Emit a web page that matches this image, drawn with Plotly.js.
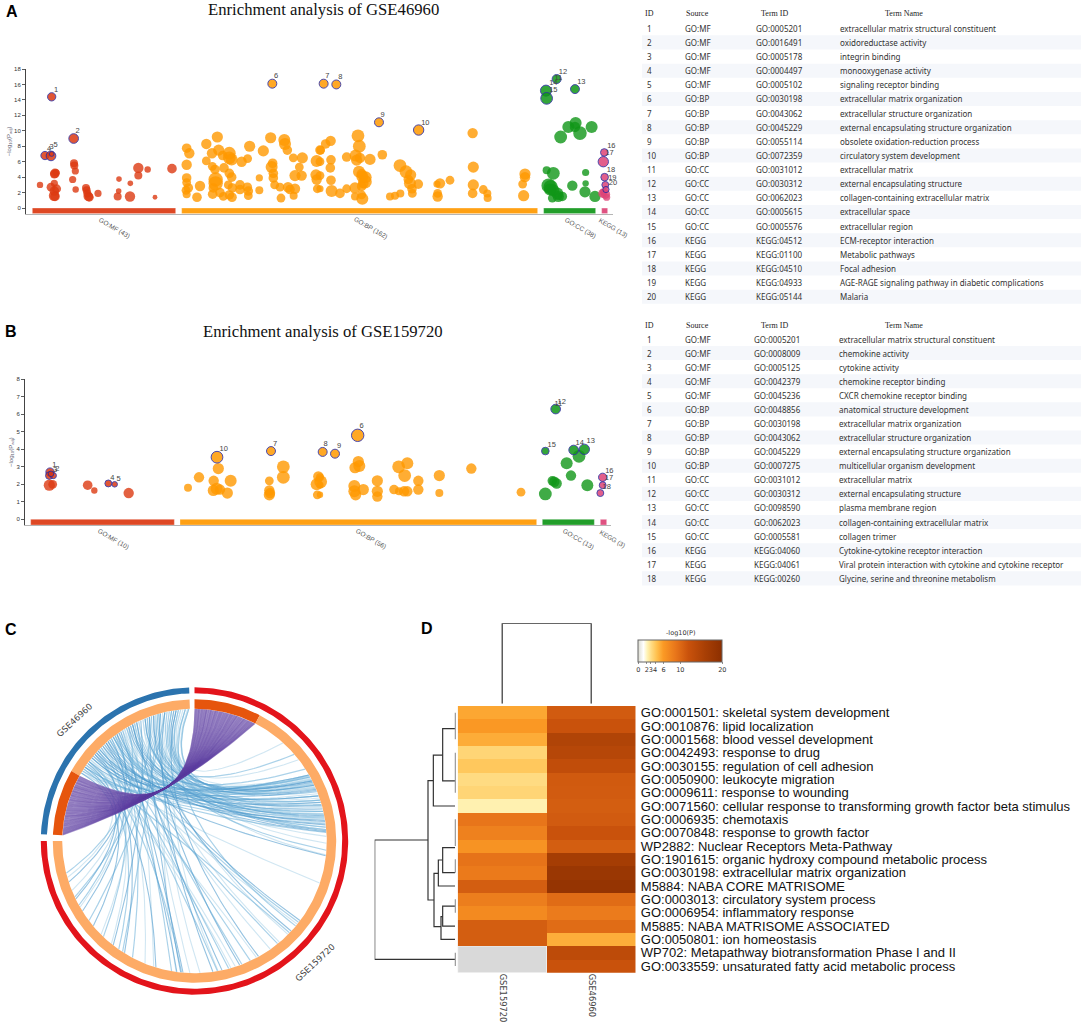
<!DOCTYPE html>
<html><head><meta charset="utf-8">
<script src="https://cdn.plot.ly/plotly-3.0.1.min.js"></script>
<style>html,body{margin:0;padding:0;background:#fff}</style></head>
<body><div id="chart" style="width:1084px;height:1030px"></div>
<script>
// ---------- Panel A: term position, -log10(Padj), circle size
const aMfX=[120,165,163,168,163,153,170,163,162,165,222,223,226,218,227,258,260,262,265,268,294,357,391,356,353,390,415,443,415,516,465];
const aMfY=[3.0,4.5,4.4,4.6,3.2,2.7,2.5,2.2,1.6,1.5,5.8,5.5,4.8,3.7,2.4,2.6,2.3,1.9,1.5,1.4,1.9,3.75,3.2,2.2,1.5,1.5,5.2,5.0,4.2,5.1,1.4];
const aMfS=[16,24,22,18,18,22,22,24,26,24,20,20,18,18,16,20,20,20,24,22,18,14,14,14,20,26,26,16,20,24,12];
const aBpX=[560,568,560,560,560,565,558,560,591,600,619,619,636,652,656,637,645,668,688,688,695,672,688,695,647,647,640,638,660,670,688,696,685,697,720,720,742,745,745,725,743,749,778,778,790,812,818,815,820,820,824,840,843,853,855,862,864,870,880,881,885,898,885,905,907,950,960,948,950,952,962,977,992,960,993,991,960,993,960,995,1020,1040,1074,1078,1040,1067,1070,1080,1110,1077,1085,1097,1095,1090,1085,1065,1085,1065,1087,1087,1147,1200,1218,1232,1225,1230,1236,1237,1255,1170,1185,1201,1320,1311,1313,1313,1350,1418,1420,1420,1418,1450,1462,1463,1575,1575,1568,1571];
const aBpY=[7.75,7.1,5.6,3.9,3.3,2.6,2.3,1.8,1.4,2.85,8.3,6.1,7.1,9.2,7.5,5.4,5.0,6.8,7.1,6.5,6.3,5.2,4.5,4.0,3.7,3.2,2.6,1.8,2.0,1.5,1.7,1.4,3.0,2.6,3.0,2.4,2.7,2.2,1.6,6.0,6.4,8.0,3.9,2.3,7.4,9.1,5.8,5.3,4.5,3.9,3.0,2.7,1.3,8.8,8.3,7.5,2.7,2.4,6.5,1.6,2.5,5.3,4.2,4.2,6.5,6.1,7.5,4.3,3.7,2.5,7.5,8.3,8.7,6.0,6.25,5.2,4.2,3.6,2.5,2.2,1.9,2.5,9.35,8.0,6.6,6.8,6.2,6.5,6.3,4.7,4.4,4.0,3.4,3.2,2.8,2.6,1.7,1.5,1.2,4.1,6.9,5.5,4.7,4.3,3.7,3.2,2.5,1.9,3.1,1.5,1.6,1.9,3.2,3.1,1.9,1.5,3.6,9.7,5.3,3.0,1.9,2.4,1.9,1.3,4.4,4.0,3.1,1.6];
const aBpS=[24,26,26,24,22,24,22,20,24,26,26,22,26,28,28,22,24,24,32,32,30,24,24,24,36,36,24,24,24,22,24,24,22,24,24,24,24,24,22,26,22,28,18,20,28,28,24,30,24,24,22,22,22,30,30,24,26,24,22,20,26,22,28,26,28,30,24,28,26,22,22,24,26,22,24,24,22,24,18,30,24,22,32,32,24,30,28,26,28,30,26,30,34,26,24,28,22,20,30,30,24,32,32,28,24,30,24,22,24,20,20,20,26,18,22,26,22,26,28,28,24,22,20,20,28,26,22,28];
const aCcX=[1727,1705,1725,1775,1740,1682,1640,1660,1757,1646,1652,1660,1672,1687,1675,1657,1717,1757,1755,1785,1675,1650];
const aCcY=[11.0,10.5,10.5,10.5,9.7,9.2,4.9,4.5,4.6,2.9,2.7,2.3,1.9,1.5,1.5,1.3,2.9,3.2,2.1,1.5,1.5,2.4];
const aCcS=[30,30,26,30,34,32,20,32,18,36,36,30,30,24,28,22,26,16,28,28,18,30];
const aKeX=[1808,1816,1820,1810];
const aKeY=[1.9,1.8,1.4,2.1];
const aKeS=[22,24,18,18];
const aHitMfX=[155,221,135,153,155],aHitMfY=[14.4,9.0,6.8,6.75,7.0],aHitMfS=[24,28,24,28,14];
const aHitBpX=[817,971,1009,1137,1256],aHitBpY=[16.1,16.1,16.0,11.1,10.1],aHitBpS=[26,26,26,26,30];
const aHitCcX=[1670,1638,1640,1725],aHitCcY=[16.7,15.2,14.2,15.4],aHitCcS=[26,32,34,26];
const aHitKeX=[1813,1810,1814,1816,1818],aHitKeY=[7.2,6.0,4.0,3.0,2.4],aHitKeS=[22,30,22,20,18];
const aLabelText=['1','2','4','3','5','6','7','8','9','10','11','12','14','15','13','16','17','18','19','20'];
const aLabelX=[168,233,147,155,167,828,982,1021,1148,1276,1675,1689,1660,1660,1744,1834,1829,1833,1837,1839];
const aLabelY=[15.26,10,7.67,7.89,8.19,17.07,17.11,17.0,12,11.03,16.85,17.54,16.16,15.3,16.34,7.97,7.07,4.87,3.88,3.23];
const aSourceBars=[[97,527],[545,1613],[1631,1787],[1805,1823]];
const aSourceNames=['GO:MF (43)','GO:BP (162)','GO:CC (38)','KEGG (13)'];
// ---------- Panel B
const bMfX=[148,158,263,283,386],bMfY=[1.95,2.0,1.95,1.65,1.5],bMfS=[28,22,24,16,26];
const bBpX=[564,597,655,641,692,640,650,660,682,808,808,808,810,850,850,955,950,962,952,960,960,960,1075,1065,1078,1063,1063,1067,1090,1132,1132,1132,1196,1222,1214,1255,1255,1182,1197,1212,1222,1318,1318,1414,1563];
const bBpY=[1.8,2.4,2.9,2.2,2.2,1.65,1.75,1.7,1.5,2.2,1.65,1.4,1.5,3.0,2.4,2.45,2.0,2.15,1.4,2.4,1.95,1.4,3.3,2.95,3.05,1.9,1.6,1.4,1.7,2.2,1.6,1.3,3.0,3.2,2.5,2.2,1.7,1.7,1.6,1.6,1.6,2.5,1.5,2.9,1.55];
const bBpS=[20,26,28,26,30,28,30,26,28,22,26,28,26,32,32,26,30,32,22,20,18,16,28,28,30,30,30,28,28,28,28,26,32,30,32,26,26,24,20,26,26,28,20,26,22];
const bCcX=[1737,1700,1713,1657,1663,1670,1762,1636],bCcY=[3.6,3.2,2.5,2.2,2.15,2.05,1.95,1.45],bCcS=[32,30,26,24,26,26,30,32];
const bHitMfX=[150,148,160,153,325,344],bHitMfY=[2.7,2.5,2.5,2.6,2.05,2.0],bHitMfS=[24,22,18,16,20,16];
const bHitBpX=[651,813,968,1005,1073],bHitBpY=[3.55,3.9,3.85,3.75,4.8],bHitBpS=[34,26,26,26,36];
const bHitCcX=[1667,1636,1721,1753],bHitCcY=[6.3,3.9,3.96,4.0],bHitCcS=[28,22,28,30];
const bHitKeX=[1808,1808,1801],bHitKeY=[2.4,1.95,1.5],bHitKeS=[24,20,20];
const bLabelText=['1','2','3','4','5','10','7','8','9','6','11','12','15','14','13','16','17','18'];
const bLabelX=[163,172,165,337,356,671,825,977,1017,1085,1675,1685,1655,1739,1772,1828,1827,1820];
const bLabelY=[3.12,2.88,2.8,2.34,2.29,4,4.32,4.27,4.19,5.3,6.6,6.7,4.25,4.36,4.44,2.76,2.34,1.83];
const bSourceBars=[[92,523],[540,1610],[1627,1783],[1801,1820]];
const bSourceNames=['GO:MF (10)','GO:BP (56)','GO:CC (13)','KEGG (3)'];
const sourceColors=['#dc3912','#ff9900','#109618','#dd4477'];
// ---------- Tables
const tableHeader=['ID','Source','Term ID','Term Name'];
const aSource=['GO:MF','GO:MF','GO:MF','GO:MF','GO:MF','GO:BP','GO:BP','GO:BP','GO:BP','GO:BP','GO:CC','GO:CC','GO:CC','GO:CC','GO:CC','KEGG','KEGG','KEGG','KEGG','KEGG'];
const aTermId=['GO:0005201','GO:0016491','GO:0005178','GO:0004497','GO:0005102','GO:0030198','GO:0043062','GO:0045229','GO:0055114','GO:0072359','GO:0031012','GO:0030312','GO:0062023','GO:0005615','GO:0005576','KEGG:04512','KEGG:01100','KEGG:04510','KEGG:04933','KEGG:05144'];
const aTermName=['extracellular matrix structural constituent','oxidoreductase activity','integrin binding','monooxygenase activity','signaling receptor binding','extracellular matrix organization','extracellular structure organization','external encapsulating structure organization','obsolete oxidation-reduction process','circulatory system development','extracellular matrix','external encapsulating structure','collagen-containing extracellular matrix','extracellular space','extracellular region','ECM-receptor interaction','Metabolic pathways','Focal adhesion','AGE-RAGE signaling pathway in diabetic complications','Malaria'];
const bSource=['GO:MF','GO:MF','GO:MF','GO:MF','GO:MF','GO:BP','GO:BP','GO:BP','GO:BP','GO:BP','GO:CC','GO:CC','GO:CC','GO:CC','GO:CC','KEGG','KEGG','KEGG'];
const bTermId=['GO:0005201','GO:0008009','GO:0005125','GO:0042379','GO:0045236','GO:0048856','GO:0030198','GO:0043062','GO:0045229','GO:0007275','GO:0031012','GO:0030312','GO:0098590','GO:0062023','GO:0005581','KEGG:04060','KEGG:04061','KEGG:00260'];
const bTermName=['extracellular matrix structural constituent','chemokine activity','cytokine activity','chemokine receptor binding','CXCR chemokine receptor binding','anatomical structure development','extracellular matrix organization','extracellular structure organization','external encapsulating structure organization','multicellular organism development','extracellular matrix','external encapsulating structure','plasma membrane region','collagen-containing extracellular matrix','collagen trimer','Cytokine-cytokine receptor interaction','Viral protein interaction with cytokine and cytokine receptor','Glycine, serine and threonine metabolism'];
// ---------- Panel C: ring sectors and links, angles in degrees
const outerSectors=[[92,177.5,'#2b73ae'],[90,-180,'#e3141b']];
const innerSectors=[[92,150.4,'#fdab66'],[150.4,177.5,'#e6550d'],[90,62.6,'#e6550d'],[62.6,-180,'#fdab66']];
const purpleTop=[89.6,89,88.3,87.8,87,86.4,85.7,85,84.6,83.8,83,82.5,81.8,81,80.5,79.8,79,78.4,77.8,77,76.3,75.6,75,74.2,73.6,73,72.2,71.5,71,70.2,69.5,68.8,68,67.5,66.8,66,65.4,64.7,64,63.4,62.9];
const purpleLeft=[150.8,151.5,152.2,152.7,153.5,154,154.8,155.5,156,156.7,157.5,158,158.8,159.5,160,160.8,161.5,162,162.8,163.5,164.2,164.8,165.5,166.2,166.8,167.5,168.2,169,169.5,170.2,171,171.6,172.4,173,173.6,174.4,175,175.6,176.2,176.8,177.3];
const linkA=[94,112,100,125,140,130,145,118,105,135,98,148,122,108,92.5,138,115,128,143,102,96,133,110,147,120,126,106,141,99,136,116,93,131,146,123,103,111,139,97,144,
 118,125,134,108,145,113,128,98,140,121,105,147,131,116,94,137,
 100,124,143,110,132,96,146,119,127,139,106,114,142,135,122,149,103,129,117,138,144,109,133,126,148,120,
 95,107,121,134,142,101,113,127,137,149,97,109,119,129,141,104,117,124,132,146,92.5,100,112,126,136,144,99,115,128,138,94,105,118,130,143,103,111,123,134,147];
const linkB=[48,41,38,33,30,29,28,27,27.5,26,25,25.5,24,23,22,20,19,18,17,16,15,14,13,12,11,10,10.5,9,8,7,6,5,4,3.7,2,-1,-4,-6.4,-6,-18.6,
 -37,-38,-39,-43,-44,-50,-51,-61,-62,-69,-70,-74,-75,-78,-79.7,-80,
 -87.6,-95,-95.6,-96,-97.7,-98,-107,-108,-118,-122,-123,-128,-129,-133.6,-135,-140,-143,-148,-150,-151,-154,-155,-158,-162,-164,-166,
 30,29,28.5,27,26,25,24.5,23.5,22.5,21,18,17,15.5,14.5,13,12,11.5,9.5,8.5,7.5,6,5,4.5,30,29.5,28,26.5,24,20,16,-40,-45,-55,-65,-72,-82,-92,-100,-112,-125];
const linkTone=[0,1,0,1,2,1,0,2,1,0,2,1,0,2,1,2,0,1,2,1,0,2,1,0,2,1,1,2,0,2,1,0,2,1,0,0,1,2,0,0,
 2,1,0,2,1,0,1,2,0,1,2,0,1,2,0,1,
 0,2,1,2,2,0,2,0,1,2,1,2,0,1,0,2,1,2,0,1,2,1,0,2,0,1,
 0,1,0,2,0,1,0,1,2,0,1,0,2,0,1,0,1,0,2,1,0,1,2,0,1,0,2,0,1,0,1,0,0,1,0,2,0,1,0,1];
// ---------- Panel D
const heatRows=['GO:0001501: skeletal system development','GO:0010876: lipid localization','GO:0001568: blood vessel development','GO:0042493: response to drug','GO:0030155: regulation of cell adhesion','GO:0050900: leukocyte migration','GO:0009611: response to wounding','GO:0071560: cellular response to transforming growth factor beta stimulus','GO:0006935: chemotaxis','GO:0070848: response to growth factor','WP2882: Nuclear Receptors Meta-Pathway','GO:1901615: organic hydroxy compound metabolic process','GO:0030198: extracellular matrix organization','M5884: NABA CORE MATRISOME','GO:0003013: circulatory system process','GO:0006954: inflammatory response','M5885: NABA MATRISOME ASSOCIATED','GO:0050801: ion homeostasis','WP702: Metapathway biotransformation Phase I and II','GO:0033559: unsaturated fatty acid metabolic process'];
const heatCols=['GSE159720','GSE46960'];
const gse159720=[5.5,6.2,5.3,3.5,4.1,3.2,3.5,2.3,9,8,6.6,9.2,8.6,11,8.3,7.3,11,11,null,null];
const gse46960=[11.2,12,15,14.3,13,11.3,11.2,11,11.2,12,11,16.5,18,18.7,9.8,8.5,9.8,5.2,13.5,12];
const colorStops=[[0,'#dbdbd0'],[1.3,'#ffffff'],[2.2,'#fff3b5'],[3.2,'#ffdb82'],[4.5,'#ffc04d'],[6,'#fb9a25'],[9,'#e8751a'],[12,'#c9520c'],[16,'#a83f05'],[20,'#8c2f00']];
const colorTicks=[0,2,3,4,6,10,20];
const dendLeftH=[86,246,246,5,null,70,86,86,68,null,42,70,70,5,null,5,42,42,5,null,55,68,68,47,null,42,55,55,5,null,5,42,42,5,null,42,47,47,5,null,5,42,42,5];
const dendLeftR=[9.55,9.55,18.5,18.5,null,5.1,5.1,14.05,14.05,null,3.18,3.18,7,7,null,1.2,1.2,5.12,5.12,null,12.05,12.05,16.05,16.05,null,11.05,11.05,13,13,null,10.12,10.12,12,12,null,15.3,15.3,17,17,null,14.5,14.5,16,16];
const dendLeafH=[4,4,null,4,4,null,4,4,null,4,4,null,4,4,null,4,4];
const dendLeafR=[0,2,null,3,6,null,8,10,null,11,12,null,14,15,null,18,19];
const dendTopX=[0,0,1,1],dendTopH=[0,241,241,0];

// ---------- layout helpers (page pixels to paper)
const W=1084,H=1030;
const px=x=>x/W, py=y=>1-y/H;
const ann=[],shapes=[],traces=[];
function text(x,y,t,size,family,color,extra){ann.push(Object.assign({xref:'paper',yref:'paper',x:px(x),y:py(y),text:t,showarrow:false,xanchor:'left',yanchor:'middle',font:{size:size,family:family,color:color},borderpad:0,borderwidth:0},extra||{}));}
const SANS='Liberation Sans, Arial, sans-serif',SERIF='Liberation Serif, serif',NOTO='Noto Sans, sans-serif',DEJA='DejaVu Sans, sans-serif';

function dots(x,y,s,c,hit,xa,ya,op){traces.push({type:'scatter',mode:'markers',x:x,y:y,xaxis:xa,yaxis:ya,cliponaxis:false,showlegend:false,hoverinfo:'skip',
 marker:{size:s,sizemode:'diameter',sizeref:hit?2.9:2.5,color:c,opacity:op||0.8,line:{width:hit?1:0,color:'#2b2ba0'}}});}
function manhattan(groups,hits,lab,bars,names,caps,colors,xa,ya,base,nameY){
 groups.forEach((g,i)=>dots(g[0],g[1],g[2],colors[i],false,xa,ya));
 hits.forEach((g,i)=>dots(g[0],g[1],g[2],colors[i],true,xa,ya,0.85));
 traces.push({type:'scatter',mode:'text',x:lab[0],y:lab[1],text:lab[2],xaxis:xa,yaxis:ya,cliponaxis:false,showlegend:false,hoverinfo:'skip',textposition:'middle center',textfont:{size:7.5,family:SANS,color:'#444'}});
 bars.forEach((b,i)=>{shapes.push({type:'rect',xref:xa,yref:ya,x0:b[0],x1:b[1],y0:0,y1:base,fillcolor:colors[i],opacity:0.92,line:{width:0.6,color:'rgba(255,255,255,0.5)'},layer:'above'});
  text(caps[i],nameY,names[i],6.5,SANS,'#555',{xanchor:'center',textangle:30});});
}
manhattan([[aMfX,aMfY,aMfS],[aBpX,aBpY,aBpS],[aCcX,aCcY,aCcS],[aKeX,aKeY,aKeS]],[[aHitMfX,aHitMfY,aHitMfS],[aHitBpX,aHitBpY,aHitBpS],[aHitCcX,aHitCcY,aHitCcS],[aHitKeX,aHitKeY,aHitKeS]],[aLabelX,aLabelY,aLabelText],aSourceBars,aSourceNames,[114,370.5,580,613],sourceColors,'x','y',-0.73,228);
manhattan([[bMfX,bMfY,bMfS],[bBpX,bBpY,bBpS],[bCcX,bCcY,bCcS],[[],[],[]]],[[bHitMfX,bHitMfY,bHitMfS],[bHitBpX,bHitBpY,bHitBpS],[bHitCcX,bHitCcY,bHitCcS],[bHitKeX,bHitKeY,bHitKeS]],[bLabelX,bLabelY,bLabelText],bSourceBars,bSourceNames,[113,371,578,612],sourceColors,'x2','y2',-0.324,539);

// tables
function table(src,ids,names,top,step,headY,xs){
 src.forEach((s,i)=>{const y=top+i*step;
  if(i%2===1) shapes.push({type:'rect',xref:'paper',yref:'paper',x0:px(642),x1:px(1081),y0:py(y-step/2),y1:py(y+step/2),fillcolor:'#f5f7fb',line:{width:0},layer:'below'});
  text(647,y,String(i+1),8,NOTO,'#333');text(xs[0],y,s,8,NOTO,'#333');text(xs[1],y,ids[i],8,NOTO,'#333');text(xs[2],y,names[i],8,NOTO,'#333');});
 const hx=[645,686,761,885];
 tableHeader.forEach((t,i)=>text(hx[i],headY,t,8,SERIF,'#222',{xanchor:'left'}));
}
table(aSource,aTermId,aTermName,28.3,14.13,13,[685,755.7,840]);
table(bSource,bTermId,bTermName,339,14.08,325,[685,754.3,839.3]);

// titles + panel letters
text(323,10,'Enrichment analysis of GSE46960',16.7,SERIF,'#111',{xanchor:'center'});
text(322.5,331,'Enrichment analysis of GSE159720',16.7,SERIF,'#111',{xanchor:'center'});
[['A',6,12],['B',5,331],['C',5,629],['D',421,628]].forEach(l=>text(l[1],l[2],'<b>'+l[0]+'</b>',16,SANS,'#000'));

// chord
const rad=d=>d*Math.PI/180;
function area(X,Y,c){traces.push({type:'scatter',mode:'lines',x:X,y:Y,fill:'toself',fillcolor:c,line:{width:0,color:c},xaxis:'x3',yaxis:'y3',showlegend:false,hoverinfo:'skip'});}
function sector(r0,r1,a0,a1,c){const X=[],Y=[];const n=Math.max(2,Math.ceil(Math.abs(a1-a0)));
 for(let i=0;i<=n;i++){const a=rad(a0+(a1-a0)*i/n);X.push(r1*Math.cos(a));Y.push(r1*Math.sin(a));}
 for(let i=n;i>=0;i--){const a=rad(a0+(a1-a0)*i/n);X.push(r0*Math.cos(a));Y.push(r0*Math.sin(a));}
 X.push(X[0]);Y.push(Y[0]);area(X,Y,c);}
const R=132;
function curve(a,b,cx,cy,n){const p=[R*Math.cos(rad(a)),R*Math.sin(rad(a))],q=[R*Math.cos(rad(b)),R*Math.sin(rad(b))],X=[],Y=[];
 for(let i=0;i<=n;i++){const t=i/n,u=1-t;X.push(u*u*p[0]+2*u*t*cx+t*t*q[0]);Y.push(u*u*p[1]+2*u*t*cy+t*t*q[1]);}
 return [X,Y];}
const tones=[['rgba(170,210,232,0.55)',1.1],['rgba(115,180,218,0.6)',1.2],['rgba(80,155,205,0.6)',1.1]];
tones.forEach((t,k)=>{const X=[],Y=[];linkA.forEach((a,i)=>{if(linkTone[i]!==k)return;const c=curve(a,linkB[i],-45,28,40);X.push(...c[0],null);Y.push(...c[1],null);});
 traces.push({type:'scatter',mode:'lines',x:X,y:Y,line:{color:t[0],width:t[1]},xaxis:'x3',yaxis:'y3',showlegend:false,hoverinfo:'skip'});});
// purple ribbon, every link passes the same waist
const WX=-29.5,WY=52.7;
function viaWaist(a,b){const pm=[.5*R*(Math.cos(rad(a))+Math.cos(rad(b))),.5*R*(Math.sin(rad(a))+Math.sin(rad(b)))];return curve(a,b,2*WX-pm[0],2*WY-pm[1],40);}
(function(){const e1=viaWaist(90,150.4),e2=viaWaist(177.5,62.6);
 const arc=(a0,a1,X,Y)=>{const n=20;for(let i=0;i<=n;i++){const a=rad(a0+(a1-a0)*i/n);X.push(R*Math.cos(a));Y.push(R*Math.sin(a));}};
 const LX=e1[0].slice(20),LY=e1[1].slice(20);arc(150.4,177.5,LX,LY);LX.push(...e2[0].slice(0,21));LY.push(...e2[1].slice(0,21));LX.push(LX[0]);LY.push(LY[0]);
 area(LX,LY,'rgba(150,130,195,0.68)');
 const RX=e1[0].slice(0,21),RY=e1[1].slice(0,21);RX.push(...e2[0].slice(20));RY.push(...e2[1].slice(20));arc(62.6,90,RX,RY);RX.push(RX[0]);RY.push(RY[0]);
 area(RX,RY,'rgba(150,130,195,0.68)');
 const PX=[],PY=[];purpleTop.forEach((a,i)=>{const c=viaWaist(a,purpleLeft[i]);PX.push(...c[0],null);PY.push(...c[1],null);});
 traces.push({type:'scatter',mode:'lines',x:PX,y:PY,line:{color:'rgba(90,60,160,0.42)',width:1.5},xaxis:'x3',yaxis:'y3',showlegend:false,hoverinfo:'skip'});
})();
outerSectors.forEach(s=>sector(147.7,153.7,s[0],s[1],s[2]));
innerSectors.forEach(s=>sector(132.3,141.7,s[0],s[1],s[2]));
text(74.5,720,'GSE46960',8.6,DEJA,'#444',{xanchor:'center',textangle:-43});
text(314.5,963,'GSE159720',8.6,DEJA,'#444',{xanchor:'center',textangle:-43});

// heatmap
const zmax=colorStops[colorStops.length-1][0];
shapes.push({type:'rect',xref:'x4',yref:'y4',x0:-.5,x1:.5,y0:17.5,y1:19.5,fillcolor:'#d9d9d9',line:{width:1,color:'#eee'},layer:'below'});
traces.push({type:'heatmap',x:[0,1],y:heatRows.map((_,i)=>i),z:gse159720.map((v,i)=>[v,gse46960[i]]),xaxis:'x4',yaxis:'y4',zmin:0,zmax:zmax,hoverongaps:false,
 colorscale:colorStops.map(s=>[s[0]/zmax,s[1]]),
 colorbar:{orientation:'h',lenmode:'pixels',len:84,thicknessmode:'pixels',thickness:21.5,x:px(680.3),xanchor:'center',y:py(640),yanchor:'top',xpad:0,ypad:0,outlinecolor:'#666',outlinewidth:1,
  tickmode:'array',tickvals:colorTicks,ticktext:colorTicks.map(String),ticks:'outside',ticklen:2,tickwidth:.6,tickcolor:'#444',tickangle:0,tickfont:{size:6.5,family:DEJA,color:'#333'},showticklabels:true}});
text(680.5,633,'-log10(P)',6.5,DEJA,'#333',{xanchor:'center'});
traces.push({type:'scatter',mode:'lines',x:dendLeftH,y:dendLeftR,xaxis:'x5',yaxis:'y4',line:{color:'#333',width:1.2},showlegend:false,hoverinfo:'skip'});
traces.push({type:'scatter',mode:'lines',x:dendLeafH,y:dendLeafR,xaxis:'x5',yaxis:'y4',line:{color:'#999',width:1.2},showlegend:false,hoverinfo:'skip'});
traces.push({type:'scatter',mode:'lines',x:dendTopX,y:dendTopH,xaxis:'x4',yaxis:'y6',line:{color:'#333',width:1.2},showlegend:false,hoverinfo:'skip'});

const hidden=(d,r,a)=>({domain:d,range:r,visible:false,anchor:a,fixedrange:true});
const mx=(l,r,rng,a)=>({domain:[px(l),px(r)],range:rng,anchor:a,showgrid:false,zeroline:false,showticklabels:false,ticks:'',showline:true,linecolor:'#b5b5b5',linewidth:1,fixedrange:true});
const my=(t,b,rng,dt,a)=>({domain:[py(b),py(t)],range:rng,anchor:a,showgrid:false,zeroline:false,tickmode:'array',tickvals:dt,ticks:'outside',ticklen:3,tickwidth:.8,tickcolor:'#333',showline:true,linecolor:'#444',linewidth:1,tickfont:{size:6,family:SANS,color:'#333'},title:{text:'−log<sub>10</sub>(P<sub>adj</sub>)',font:{size:6,family:SANS,color:'#667'},standoff:2},fixedrange:true});
const layout={width:W,height:H,margin:{l:0,r:0,t:0,b:0},paper_bgcolor:'#fff',plot_bgcolor:'rgba(0,0,0,0)',showlegend:false,hovermode:false,annotations:ann,shapes:shapes,
 xaxis:mx(26,613.3,[78,1840],'y'),
 yaxis:my(69,213.7,[-0.73,18],[0,2,4,6,8,10,12,14,16,18],'x'),
 xaxis2:mx(25,611,[75,1833],'y2'),
 yaxis2:my(379.3,525,[-0.324,8],[0,1,2,3,4,5,6,7,8],'x2'),
 xaxis3:hidden([px(34.5),px(354.5)],[-160,160],'y3'),
 yaxis3:hidden([py(1001),py(681)],[-160,160],'x3'),
 xaxis4:{domain:[px(457.7),px(635.7)],range:[-.5,1.5],anchor:'y4',tickmode:'array',tickvals:[0,1],ticktext:heatCols,tickangle:90,ticks:'',showgrid:false,zeroline:false,tickfont:{size:8.3,family:DEJA,color:'#444'},fixedrange:true},
 yaxis4:{domain:[py(972.7),py(706)],range:[19.5,-.5],anchor:'x4',side:'right',tickmode:'array',tickvals:heatRows.map((_,i)=>i),ticktext:heatRows,ticks:'outside',ticklen:1.5,tickcolor:'rgba(0,0,0,0)',showgrid:false,zeroline:false,tickfont:{size:13,family:SANS,color:'#111'},fixedrange:true},
 xaxis5:hidden([px(374.67),px(456.67)],[246,0],'y4'),
 yaxis6:hidden([py(703.7),py(623.3)],[0,241],'x4')
};
Plotly.newPlot('chart',traces,layout,{displayModeBar:false,staticPlot:true});
</script></body></html>
